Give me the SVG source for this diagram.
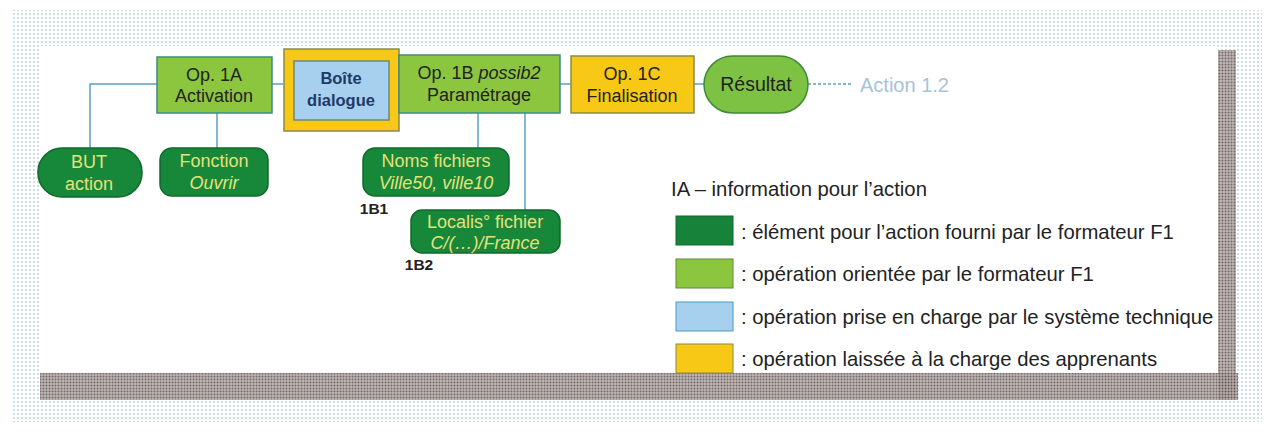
<svg xmlns="http://www.w3.org/2000/svg" width="1288" height="432" viewBox="0 0 1288 432">
<style>
text{font-family:"Liberation Sans",Arial,sans-serif;font-size:18px;text-anchor:middle}
.op{fill:#8cc63e;stroke:#3d8a84;stroke-width:1.5}
.yel{fill:#f7c816;stroke:#8a8a4a;stroke-width:1.5}
.dk{fill:#17873a;stroke:#0f6a2c;stroke-width:1.5}
.dt{fill:#e4e27a}
.bt{fill:#222}
.con{stroke:#5b9fc4;stroke-width:1.5;fill:none}
.lg{text-anchor:start;fill:#222;font-size:20.3px}
.id{fill:#222;font-size:15.5px;font-weight:bold}
</style>
<defs>
<pattern id="dots" width="4" height="4" patternUnits="userSpaceOnUse">
<rect width="4" height="4" fill="#fff"/>
<circle cx="2" cy="2" r="0.9" fill="#9ab8c8"/>
</pattern>
<pattern id="dark" width="3" height="3" patternUnits="userSpaceOnUse">
<rect width="3" height="3" fill="#b8a8a4"/>
<circle cx="1.5" cy="1.5" r="1" fill="#555"/>
</pattern>
</defs>
<rect width="1288" height="432" fill="#fff"/>
<g id="frame">
<rect x="12" y="10" width="1250" height="412" fill="url(#dots)" opacity="0.7"/>
<rect x="40" y="373" width="1198" height="27" fill="url(#dark)" opacity="0.85"/>
<rect x="1218" y="50" width="18" height="350" fill="url(#dark)" opacity="0.85"/>
<rect x="40" y="46" width="1178" height="327" fill="#fff"/>
</g>
<g id="connectors">
<polyline class="con" points="90,148 90,84 157,84"/>
<line class="con" x1="217" y1="113" x2="217" y2="148"/>
<line class="con" x1="272" y1="84" x2="283" y2="84"/>
<line class="con" x1="478" y1="113" x2="478" y2="148"/>
<line class="con" x1="525" y1="113" x2="525" y2="210"/>
<line class="con" x1="560" y1="84" x2="571" y2="84"/>
<line class="con" x1="694" y1="84" x2="704" y2="84"/>
<line class="con" x1="808" y1="84" x2="852" y2="84" stroke-dasharray="3,2"/>
</g>
<g id="op1a">
<rect class="op" x="157" y="57" width="115" height="56"/>
<text class="bt" x="214" y="81">Op. 1A</text>
<text class="bt" x="214" y="102">Activation</text>
</g>
<g id="boite">
<rect x="284" y="49" width="115" height="82" fill="#f7c816" stroke="#8a8a4a" stroke-width="1.5"/>
<rect x="294" y="61" width="95" height="59" fill="#a7d0ee" stroke="#6a8a7a" stroke-width="1.5"/>
<text x="341" y="84" fill="#1f3a6a" font-weight="bold" style="font-size:16.5px">Boîte</text>
<text x="341" y="106" fill="#1f3a6a" font-weight="bold" style="font-size:16.5px">dialogue</text>
</g>
<g id="op1b">
<rect class="op" x="399" y="55" width="161" height="58"/>
<text class="bt" x="479" y="79">Op. 1B <tspan font-style="italic">possib2</tspan></text>
<text class="bt" x="479" y="101">Paramétrage</text>
</g>
<g id="op1c">
<rect class="yel" x="571" y="56" width="123" height="57"/>
<text class="bt" x="632" y="80">Op. 1C</text>
<text class="bt" x="632" y="102">Finalisation</text>
</g>
<g id="resultat">
<rect x="704" y="56" width="104" height="57" rx="28.5" fill="#7dc242" stroke="#3f8a3a" stroke-width="1.5"/>
<text class="bt" x="756" y="91" style="font-size:19.5px">Résultat</text>
</g>
<g id="action12">
<text x="860" y="92" fill="#a7c3d8" style="text-anchor:start;font-size:20px">Action 1.2</text>
</g>
<g id="but">
<rect class="dk" x="38" y="148" width="104" height="49" rx="24"/>
<text class="dt" x="89" y="168">BUT</text>
<text class="dt" x="89" y="190">action</text>
</g>
<g id="fonction">
<rect class="dk" x="160" y="148" width="108" height="48" rx="12"/>
<text class="dt" x="214" y="167">Fonction</text>
<text class="dt" x="214" y="189" font-style="italic">Ouvrir</text>
</g>
<g id="noms">
<rect class="dk" x="363" y="148" width="146" height="48" rx="12"/>
<text class="dt" x="436" y="167">Noms fichiers</text>
<text class="dt" x="436" y="189" font-style="italic">Ville50, ville10</text>
<text class="id" x="374" y="214">1B1</text>
</g>
<g id="localis">
<rect class="dk" x="411" y="210" width="149" height="43" rx="11"/>
<text class="dt" x="485" y="228">Localis° fichier</text>
<text class="dt" x="485" y="249" font-style="italic">C/(…)/France</text>
<text class="id" x="419" y="270">1B2</text>
</g>
<g id="legend">
<text class="lg" x="671" y="196">IA – information pour l’action</text>
<rect x="676" y="216" width="57" height="29" fill="#17823a" stroke="#0f6a2c"/>
<text class="lg" x="741" y="239">: élément pour l’action fourni par le formateur F1</text>
<rect x="676" y="259" width="57" height="29" fill="#8cc63e" stroke="#5a8a3a"/>
<text class="lg" x="741" y="281">: opération orientée par le formateur F1</text>
<rect x="676" y="302" width="57" height="29" fill="#a7d0ee" stroke="#4a9ac8"/>
<text class="lg" x="741" y="324">: opération prise en charge par le système technique</text>
<rect x="676" y="344" width="57" height="29" fill="#f7c816" stroke="#8a8a4a"/>
<text class="lg" x="741" y="366">: opération laissée à la charge des apprenants</text>
</g>
</svg>
